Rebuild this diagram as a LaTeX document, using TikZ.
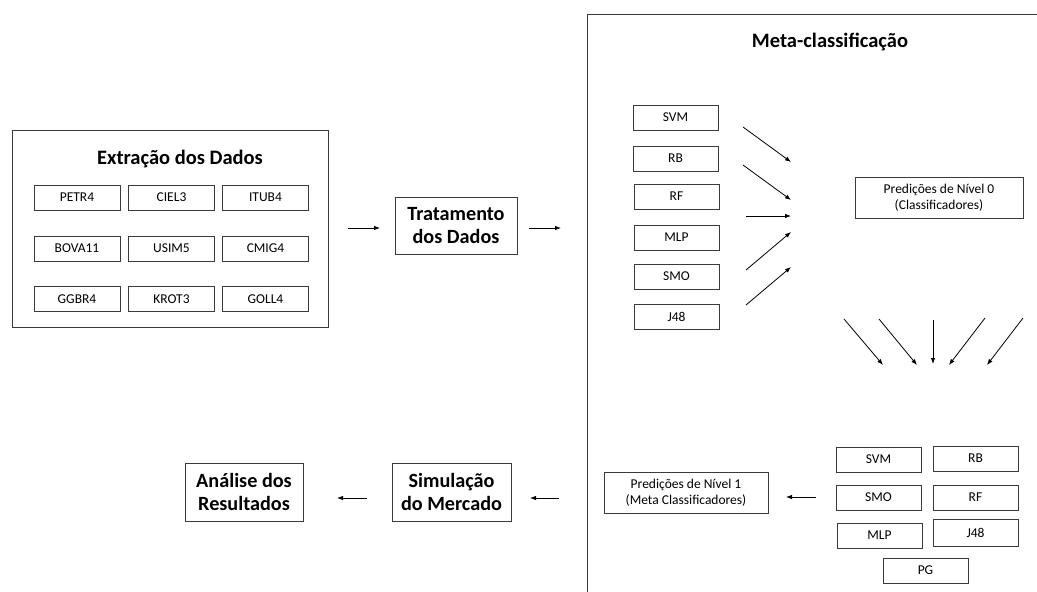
\documentclass[tikz,border=0pt]{standalone}
\usepackage{fontspec}
\setmainfont{Carlito}
\usetikzlibrary{arrows.meta}
\definecolor{edge}{HTML}{3A3A3A}
\tikzset{
  box/.style={draw=edge, line width=0.9pt, inner sep=0pt, align=center,
    font=\fontsize{13.5}{16.5}\selectfont},
  bigbox/.style={draw=edge, line width=0.9pt, inner sep=0pt, align=center,
    font=\bfseries\fontsize{20.2}{23}\selectfont},
  title/.style={inner sep=0pt, font=\bfseries\fontsize{20.5}{23}\selectfont},
  ticker/.style={box, minimum width=86pt, minimum height=25pt},
  clf/.style={box, minimum width=85pt, minimum height=25pt},
  flow/.style={line width=0.8pt, draw=black, -{Latex[length=6pt,width=4.5pt]}}
}
\begin{document}
\begin{tikzpicture}[x=1pt, y=-1pt]
\useasboundingbox (0,0) rectangle (1037,592);
\fill[white] (0,0) rectangle (1037,592);

% data extraction block
\node[draw=edge, line width=0.9pt, minimum width=316pt, minimum height=197pt, inner sep=0pt] (ext) at (170,228.5) {};
\node[title] (extT) at (180,159) {Extração dos Dados};
\node[ticker] (t1) at (77,197.5) {PETR4};
\node[ticker] (t2) at (171.5,197.5) {CIEL3};
\node[ticker] (t3) at (265.5,197.5) {ITUB4};
\node[ticker] (t4) at (77,248.5) {BOVA11};
\node[ticker] (t5) at (171.5,248.5) {USIM5};
\node[ticker] (t6) at (265.5,248.5) {CMIG4};
\node[ticker] (t7) at (77,299) {GGBR4};
\node[ticker] (t8) at (171.5,299) {KROT3};
\node[ticker] (t9) at (265.5,299) {GOLL4};

% data treatment
\node[bigbox, minimum width=122pt, minimum height=57pt] (trat) at (456,225.5) {Tratamento\\dos Dados};
\coordinate (a1s) at (348,228); \coordinate (a1e) at (380,228);
\coordinate (a2s) at (529,228); \coordinate (a2e) at (561,228);
\draw[flow] (a1s) -- (a1e);
\draw[flow] (a2s) -- (a2e);

% meta-classification frame
\coordinate (mb) at (587,592); \coordinate (mtl) at (587,14); \coordinate (mtr) at (1037,14);
\draw[draw=edge, line width=0.9pt] (mb) -- (mtl) -- (mtr);
\node[title] (metaT) at (830,42) {Meta-classificação};

% level 0 classifiers
\node[clf] (c1) at (675.5,117.5) {SVM};
\node[clf] (c2) at (675.5,158.5) {RB};
\node[clf] (c3) at (676.5,196.5) {RF};
\node[clf] (c4) at (676.5,237.5) {MLP};
\node[clf] (c5) at (676.5,276.5) {SMO};
\node[clf] (c6) at (676.5,316.5) {J48};

\coordinate (b1s) at (743,127); \coordinate (b1e) at (791,162);
\coordinate (b2s) at (743,165); \coordinate (b2e) at (791,200);
\coordinate (b3s) at (746,216); \coordinate (b3e) at (791,216);
\coordinate (b4s) at (746,270); \coordinate (b4e) at (791,232);
\coordinate (b5s) at (746,305); \coordinate (b5e) at (791,267);
\foreach \i in {1,...,5} \draw[flow] (b\i s) -- (b\i e);

\node[box, minimum width=168pt, minimum height=41pt] (p0) at (939,197.5) {Predições de Nível 0\\(Classificadores)};

% converging arrows
\coordinate (d1s) at (844,319); \coordinate (d1e) at (883,365);
\coordinate (d2s) at (879,319); \coordinate (d2e) at (917,365);
\coordinate (d3s) at (933,320); \coordinate (d3e) at (933,364);
\coordinate (d4s) at (985,318); \coordinate (d4e) at (949,365);
\coordinate (d5s) at (1023,318); \coordinate (d5e) at (987,365);
\foreach \i in {1,...,5} \draw[flow] (d\i s) -- (d\i e);

% level 1 meta classifiers
\node[clf] (m1) at (878.5,459.5) {SVM};
\node[clf] (m2) at (975.5,458.5) {RB};
\node[clf] (m3) at (878.5,497.5) {SMO};
\node[clf] (m4) at (975.5,497.5) {RF};
\node[clf] (m5) at (879.5,535.5) {MLP};
\node[clf, minimum height=27pt] (m6) at (975.5,532.5) {J48};
\node[clf] (m7) at (925.5,570.5) {PG};

\coordinate (e1s) at (816,497); \coordinate (e1e) at (786,497);
\draw[flow] (e1s) -- (e1e);
\node[box, minimum width=164pt, minimum height=41pt] (p1) at (686,492.5) {Predições de Nível 1\\(Meta Classificadores)};

% market simulation and analysis
\node[bigbox, minimum width=119pt, minimum height=58pt] (sim) at (451.5,492) {Simulação\\do Mercado};
\node[bigbox, minimum width=118pt, minimum height=58pt] (ana) at (244,492) {Análise dos\\Resultados};
\coordinate (f1s) at (559,498); \coordinate (f1e) at (530,498);
\coordinate (f2s) at (367,498); \coordinate (f2e) at (337,498);
\draw[flow] (f1s) -- (f1e);
\draw[flow] (f2s) -- (f2e);
\end{tikzpicture}
\end{document}
